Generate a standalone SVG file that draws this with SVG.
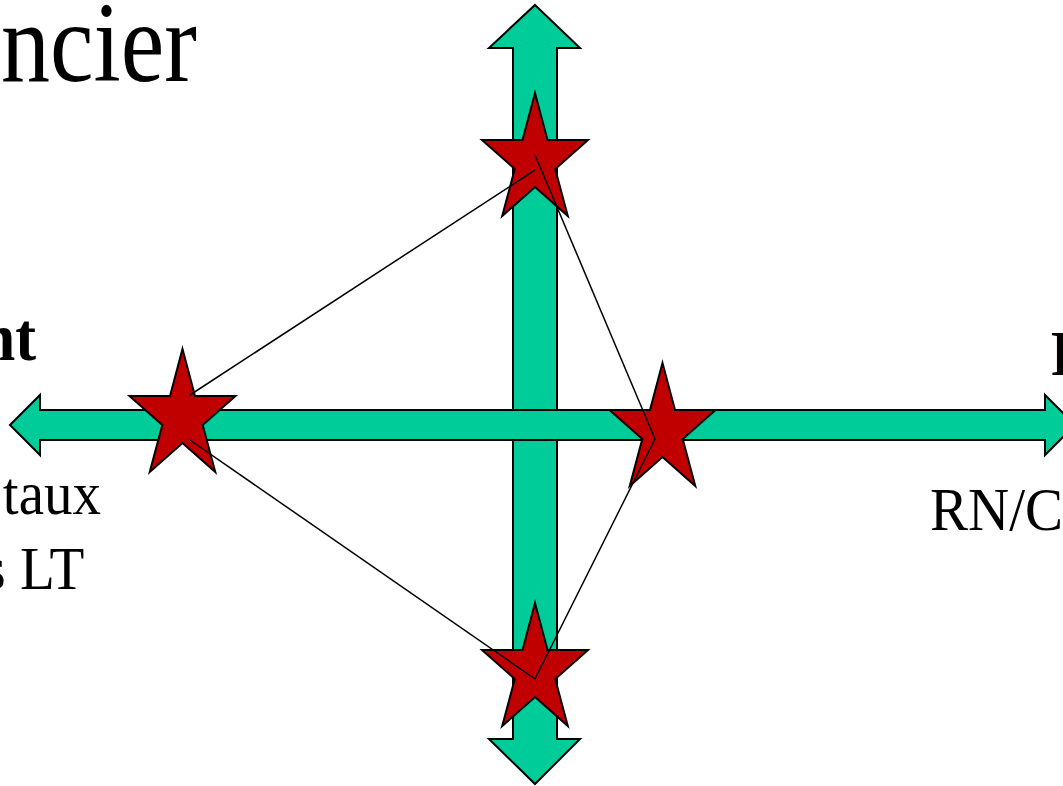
<svg xmlns="http://www.w3.org/2000/svg" width="1063" height="786" viewBox="0 0 1063 786">
<style>
.arrow{fill:#00CC99;stroke:#000;stroke-width:2;stroke-linejoin:miter}
.star{fill:#C00000;stroke:#000;stroke-width:2;stroke-linejoin:miter}
.link{stroke:#000;stroke-width:1.5;fill:none}
.t{font-family:"Liberation Serif","Times New Roman",serif;fill:#000}
</style>
<defs>
<path id="starShape" d="M0,-68 L12.5,-21 L53,-21 L20.2,8 L32.8,55 L0,26 L-32.8,55 L-20.2,8 L-53,-21 L-12.5,-21 Z"/>
</defs>
<rect width="1063" height="786" fill="#fff"/>
<g id="labels">
<text class="t" transform="translate(197,81) scale(0.86,1)" font-size="114" text-anchor="end">ncier</text>
<text class="t" transform="translate(36,360) scale(0.92,1)" font-size="68" font-weight="bold" text-anchor="end">nt</text>
<text class="t" transform="translate(1051,375) scale(0.92,1)" font-size="64" font-weight="bold">R</text>
<text class="t" transform="translate(101,514) scale(0.92,1)" font-size="62" text-anchor="end">taux</text>
<text class="t" transform="translate(-45,589) scale(0.92,1)" font-size="62">vs LT</text>
<text class="t" transform="translate(930,530) scale(0.92,1)" font-size="62">RN/C</text>
</g>
<g id="axis-vertical">
<polygon class="arrow" points="535,5 580,48 557,48 557,739 580,739 535,784 489,739 513,739 513,48 489,48"/>
</g>
<g id="axis-horizontal">
<polygon class="arrow" points="10,425 40,395 40,410 1045,410 1045,395 1075,425 1045,455 1045,440 40,440 40,455"/>
</g>
<g id="star-top"><use href="#starShape" class="star" transform="translate(535,161)"/></g>
<g id="star-left"><use href="#starShape" class="star" transform="translate(182.5,417)"/></g>
<g id="star-right"><use href="#starShape" class="star" transform="translate(662.5,431)"/></g>
<g id="star-bottom"><use href="#starShape" class="star" transform="translate(535,671)"/></g>
<g id="connectors">
<line class="link" x1="535" y1="170" x2="190" y2="395"/>
<line class="link" x1="190" y1="440" x2="535" y2="679"/>
<line class="link" x1="535" y1="679" x2="655" y2="439"/>
<line class="link" x1="655" y1="439" x2="535" y2="155"/>
</g>
</svg>
